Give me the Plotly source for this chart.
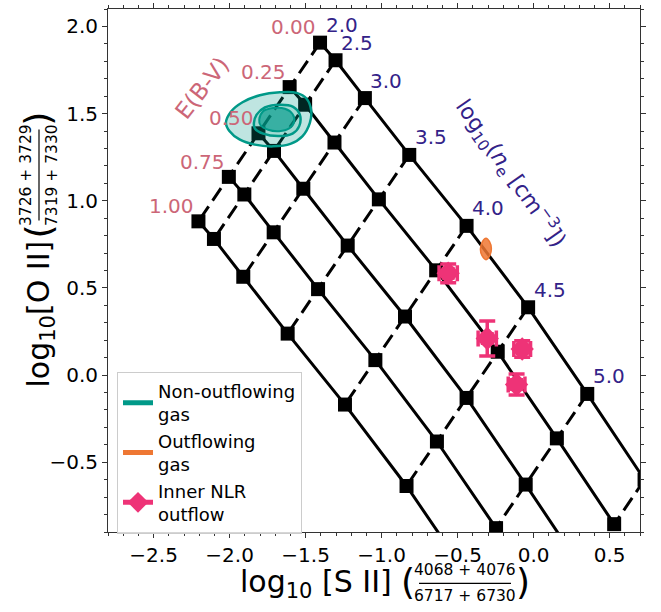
import plotly.graph_objects as go

# ---------------- data ----------------
density = [2.0, 2.5, 3.0, 3.5, 4.0, 4.5, 5.0, 5.5]
density_labels = ["2.0", "2.5", "3.0", "3.5", "4.0", "4.5", "5.0"]
# E(B-V)=0 model curve: log10 [S II] ratio and log10 [O II] ratio vs density
s2_e0 = [-1.405, -1.303, -1.110, -0.818, -0.441, -0.036, 0.353, 0.730]
o2_e0 = [1.907, 1.806, 1.589, 1.263, 0.856, 0.389, -0.108, -0.600]
ebv = [0.0, 0.25, 0.5, 0.75, 1.0]
ebv_labels = ["0.00", "0.25", "0.50", "0.75", "1.00"]
# reddening shift of both ratios for each E(B-V)
ebv_dx = [0.0, -0.200, -0.405, -0.600, -0.800]
ebv_dy = [0.0, -0.255, -0.520, -0.770, -1.025]

# non-outflowing gas posterior contours
nonout_outer_x = [-2.024, -1.990, -1.915, -1.801, -1.669, -1.559, -1.493, -1.463, -1.472, -1.520, -1.600, -1.713, -1.834, -1.935, -2.000]
nonout_outer_y = [1.447, 1.512, 1.565, 1.605, 1.622, 1.619, 1.585, 1.517, 1.447, 1.371, 1.326, 1.312, 1.322, 1.352, 1.399]
nonout_mid_x = [-1.840, -1.822, -1.768, -1.669, -1.582, -1.538, -1.542, -1.586, -1.680, -1.779, -1.834]
nonout_mid_y = [1.447, 1.494, 1.535, 1.551, 1.539, 1.494, 1.428, 1.385, 1.371, 1.385, 1.415]
nonout_in_x = [-1.805, -1.779, -1.713, -1.636, -1.586, -1.575, -1.608, -1.674, -1.746, -1.796]
nonout_in_y = [1.466, 1.513, 1.532, 1.528, 1.498, 1.453, 1.415, 1.399, 1.407, 1.433]

# outflowing gas contour
out_x = [-0.313, -0.290, -0.278, -0.287, -0.313, -0.339, -0.350, -0.338]
out_y = [0.785, 0.765, 0.726, 0.688, 0.662, 0.685, 0.722, 0.763]

# inner NLR outflow points
nlr_x = [-0.562, -0.305, -0.075, -0.112]
nlr_y = [0.584, 0.210, 0.150, -0.054]
nlr_xerr = [0.060, 0.060, 0.055, 0.055]
nlr_yerr = [0.054, 0.100, 0.047, 0.060]

TEAL = "#009988"
ORANGE = "#EE7733"
MAGENTA = "#EE3377"
ROSE = "#CC6677"
INDIGO = "#332288"
FONT = "DejaVu Sans"

W, H = 661, 612
ML, MR, MT, MB = 108, 21, 3, 80
PW, PH = W - ML - MR, H - MT - MB


def pxx(x):
    return (x - ML) / PW


def pxy(y):
    return (MT + PH - y) / PH


fig = go.Figure()

# grid
gx = [[s2_e0[j] + ebv_dx[i] for j in range(len(density))] for i in range(len(ebv))]
gy = [[o2_e0[j] + ebv_dy[i] for j in range(len(density))] for i in range(len(ebv))]

sx, sy = [], []
for i in range(len(ebv)):
    sx += gx[i] + [None]
    sy += gy[i] + [None]
fig.add_trace(go.Scatter(x=sx, y=sy, mode="lines", line=dict(color="black", width=3),
                         showlegend=False, hoverinfo="skip"))
dx_, dy_ = [], []
for j in range(len(density)):
    dx_ += [gx[i][j] for i in range(len(ebv))] + [None]
    dy_ += [gy[i][j] for i in range(len(ebv))] + [None]
fig.add_trace(go.Scatter(x=dx_, y=dy_, mode="lines", line=dict(color="black", width=3, dash="15px,7px"),
                         showlegend=False, hoverinfo="skip"))
mx = [v for row in gx for v in row]
my = [v for row in gy for v in row]
fig.add_trace(go.Scatter(x=mx, y=my, mode="markers", marker=dict(symbol="square", size=14, color="black"),
                         showlegend=False, hoverinfo="skip"))

# contours
fig.add_trace(go.Scatter(x=nonout_outer_x + nonout_outer_x[:1], y=nonout_outer_y + nonout_outer_y[:1],
                         mode="lines", fill="toself", fillcolor="rgba(0,153,136,0.25)",
                         line=dict(color=TEAL, width=2.5, shape="spline", smoothing=1.0),
                         showlegend=False, hoverinfo="skip"))
fig.add_trace(go.Scatter(x=nonout_mid_x + nonout_mid_x[:1], y=nonout_mid_y + nonout_mid_y[:1],
                         mode="lines", fill="toself", fillcolor="rgba(0,153,136,0.15)",
                         line=dict(color=TEAL, width=2.5, shape="spline", smoothing=1.0),
                         showlegend=False, hoverinfo="skip"))
fig.add_trace(go.Scatter(x=nonout_in_x + nonout_in_x[:1], y=nonout_in_y + nonout_in_y[:1],
                         mode="lines", fill="toself", fillcolor="rgba(0,153,136,0.65)",
                         line=dict(color=TEAL, width=2, shape="spline", smoothing=1.0),
                         showlegend=False, hoverinfo="skip"))
fig.add_trace(go.Scatter(x=out_x + out_x[:1], y=out_y + out_y[:1],
                         mode="lines", fill="toself", fillcolor="rgba(238,119,51,0.85)",
                         line=dict(color=ORANGE, width=1.5, shape="spline", smoothing=1.0),
                         showlegend=False, hoverinfo="skip"))

# inner NLR points (error bars + marker)
fig.add_trace(go.Scatter(x=nlr_x, y=nlr_y, mode="markers",
                         marker=dict(symbol="square", size=13, color=MAGENTA),
                         error_x=dict(type="data", array=nlr_xerr, color=MAGENTA, thickness=3.5, width=8),
                         error_y=dict(type="data", array=nlr_yerr, color=MAGENTA, thickness=3.5, width=8),
                         showlegend=False, hoverinfo="skip"))
fig.add_trace(go.Scatter(x=nlr_x, y=nlr_y, mode="markers",
                         marker=dict(symbol="diamond", size=18, color=MAGENTA),
                         showlegend=False, hoverinfo="skip"))

# legend-only traces
fig.add_trace(go.Scatter(x=[None], y=[None], mode="lines", line=dict(color=TEAL, width=5),
                         name="Non-outflowing<br>gas"))
fig.add_trace(go.Scatter(x=[None], y=[None], mode="lines", line=dict(color=ORANGE, width=5),
                         name="Outflowing<br>gas"))
fig.add_trace(go.Scatter(x=[None], y=[None], mode="lines+markers", line=dict(color=MAGENTA, width=5),
                         marker=dict(symbol="diamond", size=16, color=MAGENTA),
                         name="Inner NLR<br>outflow"))

ann = []
# E(B-V) labels
for i, lab in enumerate(ebv_labels):
    ann.append(dict(x=gx[i][0] - 0.175, y=gy[i][0] + 0.088, xref="x", yref="y", text=lab,
                    xanchor="center", yanchor="middle",
                    showarrow=False, font=dict(family=FONT, size=20, color=ROSE)))
# density labels
for j, lab in enumerate(density_labels):
    ann.append(dict(x=gx[0][j] + 0.142, y=gy[0][j] + 0.10, xref="x", yref="y", text=lab,
                    xanchor="center", yanchor="middle",
                    showarrow=False, font=dict(family=FONT, size=20, color=INDIGO)))
ann.append(dict(x=-2.18, y=1.645, xref="x", yref="y", text="E(B-V)", textangle=-52,
                xanchor="center", yanchor="middle",
                showarrow=False, font=dict(family=FONT, size=23, color=ROSE)))
ann.append(dict(x=-0.151, y=1.16, xref="x", yref="y",
                text="log<sub>10</sub>(<i>n</i><sub>e</sub> [cm<sup>−3</sup>])", textangle=55,
                xanchor="center", yanchor="middle",
                showarrow=False, font=dict(family=FONT, size=22, color=INDIGO)))

# axis titles (with fractions)
TF = 30
FF = 15.5
PF = 36


def pa(x, y, text, size, angle=0):
    return dict(x=pxx(x), y=pxy(y), xref="paper", yref="paper", xanchor="center", yanchor="middle",
                text=text, textangle=angle, showarrow=False,
                font=dict(family=FONT, size=size, color="black"))


ann.append(pa(316, 584, "log<sub>10</sub> [S II]", TF))
ann.append(pa(408, 582, "(", PF))
ann.append(pa(523, 582, ")", PF))
ann.append(pa(465, 570, "4068 + 4076", FF))
ann.append(pa(465, 597, "6717 + 6730", FF))

ann.append(pa(40, 312, "log<sub>10</sub>[O II]", TF, angle=-90))
ann.append(pa(38, 228, "(", PF, angle=-90))
ann.append(pa(38, 114, ")", PF, angle=-90))
ann.append(pa(26, 171, "3726 + 3729", FF, angle=-90))
ann.append(pa(52, 171, "7319 + 7330", FF, angle=-90))

shapes = [
    dict(type="line", xref="paper", yref="paper", x0=pxx(419), x1=pxx(511), y0=pxy(584), y1=pxy(584),
         line=dict(color="black", width=1.2)),
    dict(type="line", xref="paper", yref="paper", x0=pxx(39), x1=pxx(39), y0=pxy(125), y1=pxy(217),
         line=dict(color="black", width=1.2)),
]

axis_common = dict(
    showline=True, linecolor="#333333", linewidth=1, mirror="ticks",
    ticks="outside", ticklen=5, tickwidth=1, tickcolor="#333333",
    dtick=0.5, tick0=0, tickformat=".1f", showgrid=False, zeroline=False,
    minor=dict(ticks="outside", ticklen=3, tickwidth=1, tickcolor="#333333", dtick=0.1, showgrid=False),
    tickfont=dict(family=FONT, size=20, color="black"),
)

fig.update_layout(
    width=W, height=H,
    margin=dict(l=ML, r=MR, t=MT, b=MB),
    paper_bgcolor="white", plot_bgcolor="white",
    xaxis=dict(range=[-2.8, 0.7], **axis_common),
    yaxis=dict(range=[-0.9, 2.1], **axis_common),
    annotations=ann, shapes=shapes,
    legend=dict(x=pxx(117), y=pxy(370), xanchor="left", yanchor="top",
                bgcolor="rgba(255,255,255,0.8)", bordercolor="#cccccc", borderwidth=1,
                font=dict(family=FONT, size=18, color="black"), itemwidth=30),
    font=dict(family=FONT),
)

fig.write_html("out.html")
